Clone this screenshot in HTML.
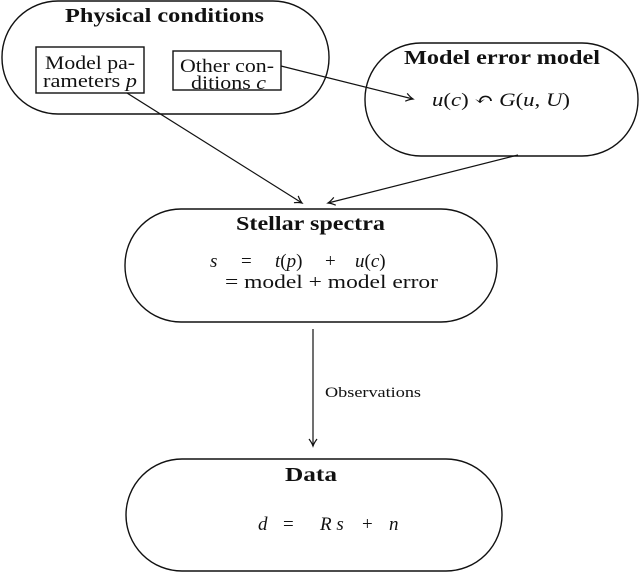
<!DOCTYPE html>
<html><head><meta charset="utf-8"><style>
html,body{margin:0;padding:0;background:#fff}
svg{display:block}
text{font-family:"Liberation Serif","DejaVu Serif",serif;fill:#111}
.b{font-weight:bold;font-size:20px}
.n{font-size:19px}
.i{font-style:italic}
</style></head><body>
<svg width="640" height="574" viewBox="0 0 640 574">
<defs><marker id="a" markerWidth="10" markerHeight="10" refX="8" refY="5" orient="auto" markerUnits="userSpaceOnUse">
<path d="M1,1 Q5,4 8,5 Q5,6 1,9" fill="none" stroke="#111" stroke-width="1.2"/></marker></defs>
<g fill="none" stroke="#111" stroke-width="1.4">
<rect x="2" y="1" width="327" height="113" rx="56" ry="56"/>
<rect x="36" y="47" width="108" height="46"/>
<rect x="173" y="51" width="108" height="39"/>
<rect x="365" y="43" width="273" height="113" rx="56" ry="56"/>
<rect x="125" y="209" width="372" height="113" rx="56" ry="56"/>
<rect x="126" y="459" width="376" height="112" rx="56" ry="56"/>
</g>
<g stroke="#111" stroke-width="1.2" fill="none" marker-end="url(#a)">
<line x1="127" y1="93" x2="302" y2="203"/>
<line x1="281" y1="66" x2="413" y2="99"/>
<line x1="518" y1="155" x2="328" y2="203"/>
<line x1="313" y1="329" x2="313" y2="446"/>
</g>
<text class="b" x="65" y="22" textLength="199" lengthAdjust="spacingAndGlyphs">Physical conditions</text>
<text class="n" x="45" y="69" textLength="90" lengthAdjust="spacingAndGlyphs">Model pa-</text>
<text class="n" x="43" y="87" textLength="94" lengthAdjust="spacingAndGlyphs">rameters <tspan class="i">p</tspan></text>
<text class="n" x="180" y="72" textLength="94" lengthAdjust="spacingAndGlyphs">Other con-</text>
<text class="n" x="191" y="89" textLength="75" lengthAdjust="spacingAndGlyphs">ditions <tspan class="i">c</tspan></text>
<text class="b" x="404" y="64" textLength="196" lengthAdjust="spacingAndGlyphs">Model error model</text>
<text class="n" x="432" y="106" textLength="138" lengthAdjust="spacingAndGlyphs"><tspan class="i">u</tspan>(<tspan class="i">c</tspan>) ↶ <tspan class="i">G</tspan>(<tspan class="i">u</tspan>, <tspan class="i">U</tspan>)</text>
<text class="b" x="236" y="230" textLength="149" lengthAdjust="spacingAndGlyphs">Stellar spectra</text>
<text class="n i" x="210" y="267">s</text>
<text class="n" x="241" y="267">=</text>
<text class="n" x="275" y="267"><tspan class="i">t</tspan>(<tspan class="i">p</tspan>)</text>
<text class="n" x="325" y="267">+</text>
<text class="n" x="355" y="267"><tspan class="i">u</tspan>(<tspan class="i">c</tspan>)</text>
<text class="n" x="225" y="288" textLength="213" lengthAdjust="spacingAndGlyphs">= model + model error</text>
<text x="325" y="397" style="font-size:15px" textLength="96" lengthAdjust="spacingAndGlyphs">Observations</text>
<text class="b" x="285" y="481" textLength="52" lengthAdjust="spacingAndGlyphs">Data</text>
<text class="n i" x="258" y="530">d</text>
<text class="n" x="283" y="530">=</text>
<text class="n i" x="320" y="530">R s</text>
<text class="n" x="362" y="530">+</text>
<text class="n i" x="389" y="530">n</text>
</svg>
</body></html>
